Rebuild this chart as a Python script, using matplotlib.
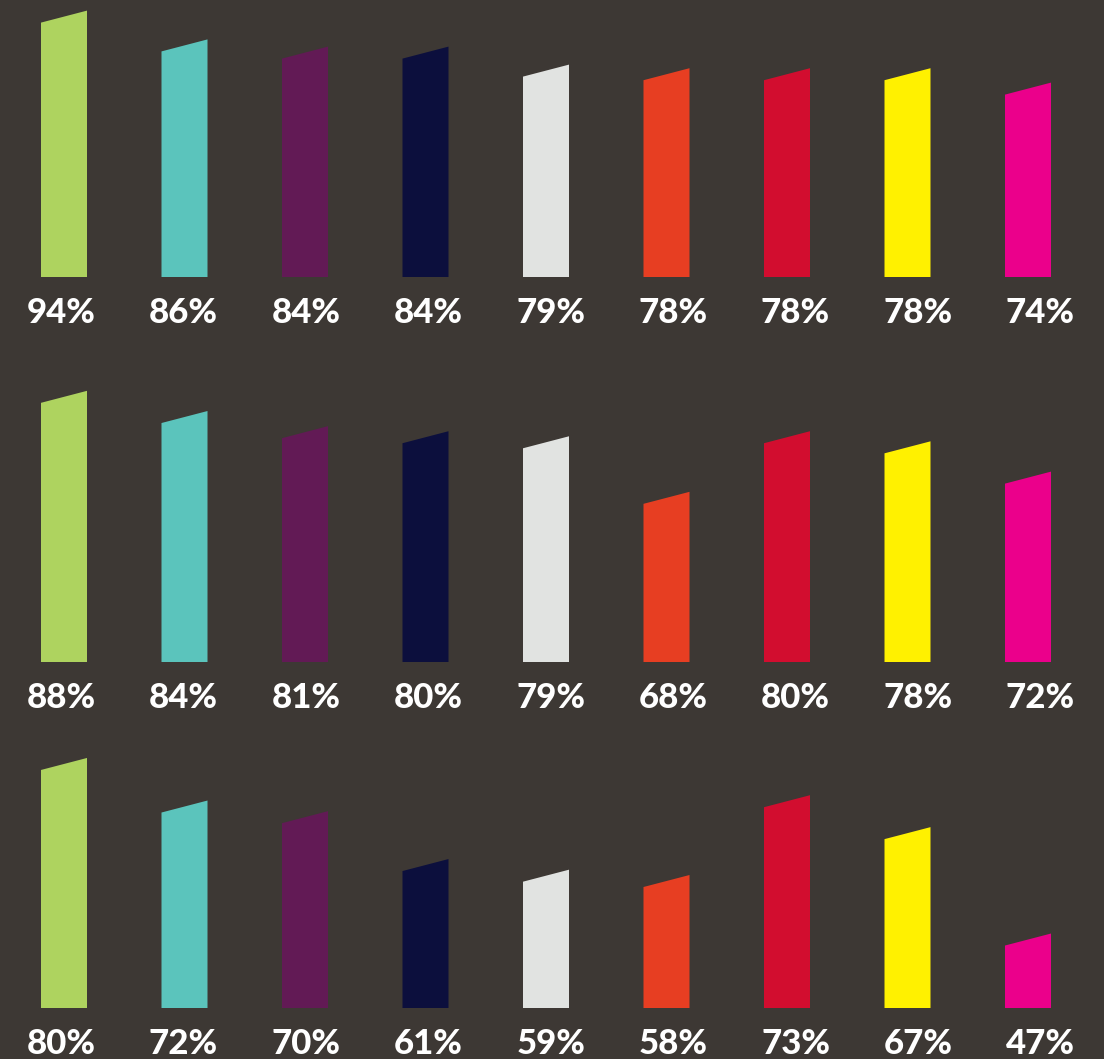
import numpy as np
import matplotlib
matplotlib.use("Agg")
import matplotlib.pyplot as plt
from matplotlib.transforms import offset_copy

# three survey rows, nine groups each (percent)
row1 = [94, 86, 84, 84, 79, 78, 78, 78, 74]
row2 = [88, 84, 81, 80, 79, 68, 80, 78, 72]
row3 = [80, 72, 70, 61, 59, 58, 73, 67, 47]
rows = [row1, row2, row3]

colors = ['#aed35f', '#5bc4bc', '#621a55', '#0c0f3d', '#e1e3e1',
          '#e73e22', '#d20d2f', '#fff100', '#eb008b']
bg = '#3d3834'

W, H = 1104, 1059
fig = plt.figure(figsize=(W / 100, H / 100), dpi=100, facecolor=bg)

baselines = [277, 662, 1008]          # pixel rows of the bar bottoms
floors = [20.0, 34.3, 33.0]           # value at the baseline of each row
px_per_pt = [3.6, 5.05, 5.32]         # vertical scale of each row
axes_h = 300                          # px
step = 120.5                          # px between bar centres
first = 64                            # px, first bar centre
bar_w = 46 / step
slant_px = 12

for vals, base, lo, s in zip(rows, baselines, floors, px_per_pt):
    hi = lo + axes_h / s
    ax = fig.add_axes([0, (H - base) / H, 1, axes_h / H])
    ax.set_facecolor('none')
    ax.set_xlim(-first / step, (W - first) / step)
    ax.set_ylim(lo, hi)
    ax.axis('off')
    slant = slant_px / s
    x = np.arange(len(vals))
    for xi, v, c in zip(x, vals, colors):
        x0, x1 = xi - bar_w / 2, xi + bar_w / 2
        ax.fill([x0, x1, x1, x0], [lo, lo, v, v - slant], color=c, lw=0,
                clip_on=False)
    trans = offset_copy(ax.transData, fig=fig, x=0, y=-46, units='dots')
    for xi, v in zip(x, vals):
        ax.text(xi * 1.016 - 0.025, lo, f'{v}%', transform=trans,
                ha='center', va='baseline', color='white',
                fontsize=25, fontweight='black', family='Lato', clip_on=False)

fig.savefig('out.png', dpi=100, facecolor=bg)
